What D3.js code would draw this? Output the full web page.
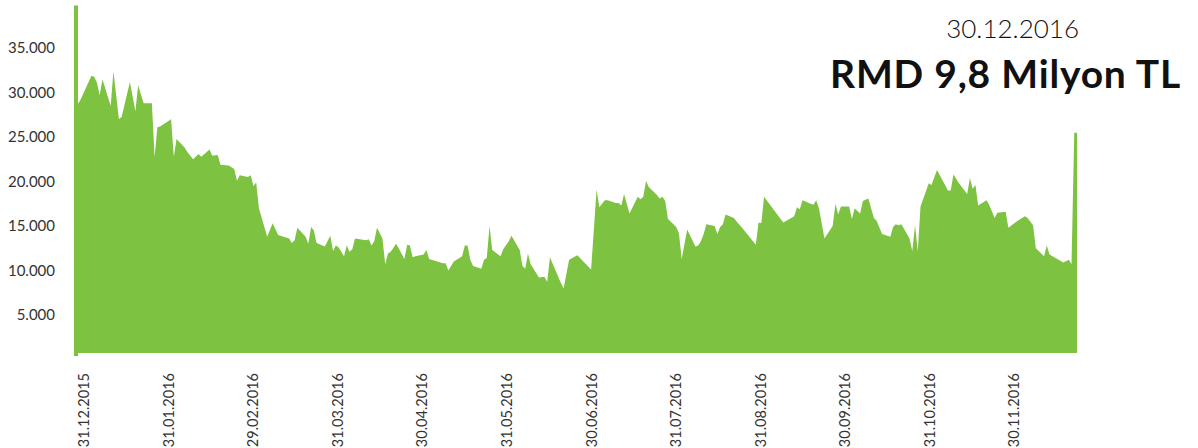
<!DOCTYPE html>
<html>
<head>
<meta charset="utf-8">
<script src="https://cdn.jsdelivr.net/npm/d3@7/dist/d3.min.js"></script>
<style>
  html, body { margin: 0; padding: 0; background: #ffffff; }
  svg { display: block; }
  .tick text { font-family: "Lato", "Open Sans", sans-serif; }
</style>
</head>
<body>
<div id="chart"></div>
<script>
// Day offsets from 31.12.2015 for each observation (vertex of the series)
const dayOffsets = [
  0,1,2,6,7,8,9,10,13,14,16,17,20,22,23,25,28,29,30,31,35,36,37,40,41,43,45,46,49,50,
  52,53,56,58,59,60,63,64,65,66,67,70,72,74,78,79,80,81,84,85,86,87,88,91,93,94,95,96,98,99,
  100,101,102,106,107,108,109,110,112,113,114,115,117,120,121,122,123,124,127,128,129,134,135,136,138,141,142,143,144,145,
  148,149,150,151,152,155,156,158,159,162,163,164,165,166,169,171,172,173,177,178,180,183,188,190,191,193,194,197,198,199,
  200,202,205,206,207,208,209,212,213,214,215,216,218,219,220,221,223,226,227,228,229,230,233,234,235,236,237,240,241,243,
  248,249,250,251,258,262,263,264,265,268,269,270,271,273,276,277,278,279,282,283,284,286,287,289,291,292,294,297,298,299,
  300,301,304,305,306,307,308,311,312,314,318,319,320,322,325,326,327,328,329,332,333,335,336,339,340,343,346,347,349,350,
  353,354,355,360,362,363,364,365
];
// RMD values (thousand TL)
const values = [
  28300,28700,29200,31900,31800,31100,29700,31500,28500,32400,27000,27300,31200,27900,30800,28800,28800,22800,26100,26200,27000,22800,24800,23800,23300,22500,23100,22800,23600,22900,
  23000,21900,21800,21400,20100,20700,20500,20700,19500,19900,17000,13800,15300,14000,13600,13100,13400,14800,13800,13000,14900,14500,13100,12700,13900,12200,12800,12600,11600,12800,
  12100,12400,13600,13400,13500,12800,13300,14800,13600,10700,11900,12100,13000,11300,12900,12800,11500,11600,11800,12300,11300,10800,10800,10000,11000,11600,12800,12800,11200,10500,
  10200,11200,11400,15000,12300,11600,12400,13300,13900,12300,10500,10200,11900,10700,9200,9300,8700,11500,8600,8000,11200,11700,10100,19100,17100,17900,17900,17600,17600,17300,
  18600,16400,18300,18000,18300,20100,19400,18500,18100,18300,17800,15800,15200,14900,14200,11300,14600,12700,12800,13300,14100,15200,15000,14100,14900,15200,16300,15900,15500,14800,
  12900,15400,15300,18300,15400,16100,17100,16900,17900,17500,17400,17900,17000,13600,15000,17500,16300,17200,17200,15800,17000,16400,17800,18100,15900,15600,14100,13800,14900,15200,
  15100,15200,13600,12200,15100,12200,17200,19800,19600,21300,19000,19000,20800,19800,18600,20400,19200,19600,17300,17900,17400,15900,16500,16600,14800,15500,16100,15900,15100,12500,
  11600,12800,11800,10900,11200,10700,25500,25500
];
const tickLabels = ["31.12.2015","31.01.2016","29.02.2016","31.03.2016","30.04.2016","31.05.2016",
                    "30.06.2016","31.07.2016","31.08.2016","30.09.2016","31.10.2016","30.11.2016"];
const yTickValues = [5000,10000,15000,20000,25000,30000,35000];
const titleDate = "30.12.2016";
const titleMain = "RMD 9,8 Milyon TL";

const W = 1198, H = 448;
const green = "#7ec242";

const data = dayOffsets.map((d, i) => ({ day: d, value: values[i] }));

const svg = d3.select("#chart").append("svg")
  .attr("width", W).attr("height", H);

const x = d3.scaleLinear().domain([0, 365]).range([75, 1077]);
const y = d3.scaleLinear().domain([720, 39800]).range([353, 5.5]);
// Category labels are spread evenly along the axis
const xLab = d3.scalePoint().domain(tickLabels).range([75, 1005]);

const area = d3.area()
  .x(d => x(d.day))
  .y0(y.range()[0])
  .y1(d => y(d.value));

svg.append("path").datum(data)
  .attr("d", area)
  .attr("fill", green);

// X axis (labels only)
const xAxis = d3.axisBottom(xLab).tickSize(0).tickSizeOuter(0);
const gx = svg.append("g").attr("transform", "translate(0,353)").call(xAxis);
gx.select(".domain").remove();
gx.selectAll(".tick text")
  .attr("font-size", 14.5).attr("fill", "#333")
  .attr("text-anchor", "end")
  .attr("transform", "rotate(-90)")
  .attr("x", -20).attr("y", 0).attr("dy", "0.95em");

// Y axis
const yAxis = d3.axisLeft(y)
  .tickValues(yTickValues)
  .tickSize(0).tickSizeOuter(0)
  .tickPadding(21)
  .tickFormat(d => d3.format(",")(d).replace(/,/g, "."));
const gy = svg.append("g").attr("transform", "translate(76,0)").call(yAxis);
gy.select(".domain").attr("stroke", green).attr("stroke-width", 4)
  .attr("d", `M0,${y.range()[1]}V${y.range()[0] + 3}`);
gy.selectAll(".tick text").attr("font-size", 15).attr("fill", "#333");

// Title
svg.append("text")
  .attr("x", 1079).attr("y", 38)
  .attr("text-anchor", "end")
  .attr("font-family", "Lato, 'Open Sans', sans-serif")
  .attr("font-weight", 300)
  .attr("font-size", 26)
  .attr("fill", "#111")
  .text(titleDate);
svg.append("text")
  .attr("x", 1181).attr("y", 88)
  .attr("text-anchor", "end")
  .attr("font-family", "Lato, 'Open Sans', sans-serif")
  .attr("font-weight", 700)
  .attr("font-size", 39)
  .attr("letter-spacing", 0.8)
  .attr("fill", "#111")
  .text(titleMain);
</script>
</body>
</html>
